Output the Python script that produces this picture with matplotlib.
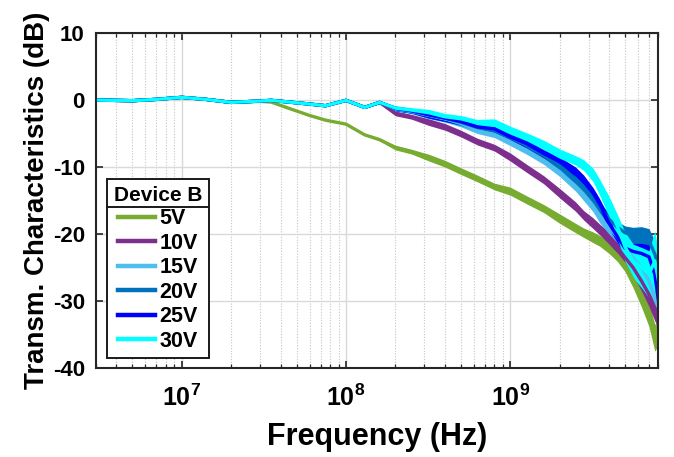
import matplotlib
matplotlib.use("Agg")
import matplotlib.pyplot as plt
import numpy as np
from matplotlib.lines import Line2D
from matplotlib.ticker import LogLocator, NullFormatter

plt.rcParams["font.family"] = ["Liberation Sans", "DejaVu Sans"]
plt.rcParams["font.weight"] = "bold"
plt.rcParams["axes.unicode_minus"] = False
plt.rcParams["mathtext.fontset"] = "custom"
plt.rcParams["mathtext.rm"] = "Liberation Sans:bold"
plt.rcParams["mathtext.it"] = "Liberation Sans:bold"
plt.rcParams["mathtext.bf"] = "Liberation Sans:bold"
plt.rcParams["mathtext.default"] = "rm"

# ── Data ──────────────────────────────────────────────────────────────────
freq_hz = [3e6, 5e6, 7e6, 1e7, 1.4e7, 2e7, 3e7, 3.5e7, 4.5e7, 6e7, 7.5e7,
           1e8, 1.3e8, 1.6e8, 2e8, 2.5e8, 3.2e8, 4e8, 5e8, 6.3e8, 8e8,
           1e9, 1.26e9, 1.6e9, 2e9, 2.5e9, 2.8e9, 3.2e9, 3.5e9, 4e9,
           4.5e9, 5e9, 5.6e9, 6.3e9, 7e9, 7.6e9, 8e9]

common_low = [0.0, -0.1, 0.1, 0.4, 0.1, -0.35, -0.15, -0.05, -0.3, -0.6,
              -0.85, -0.05, -1.1, -0.35]

v5 = [0.0, -0.1, 0.1, 0.4, 0.1, -0.35, -0.2, -0.3, -1.25, -2.3, -3.0,
      -3.6, -5.2, -5.9, -7.1, -7.7, -8.6, -9.5, -10.6, -11.7, -12.9,
      -13.6, -14.9, -16.2, -17.7, -19.1, -19.8, -20.5, -21.0, -22.0,
      -23.2, -24.6, -26.8, -29.4, -32.0, -35.5, -34.5]
v10 = common_low + [-2.0, -2.5, -3.3, -4.0, -5.0, -6.2, -7.1, -8.5, -10.2,
                    -11.9, -13.9, -15.9, -17.2, -18.4, -19.3, -20.6, -22.0,
                    -23.5, -25.0, -27.0, -29.0, -31.0, -32.0]
v15 = common_low + [-1.3, -1.7, -2.3, -2.8, -3.5, -4.5, -5.1, -6.2, -7.5,
                    -9.0, -10.7, -12.9, -14.3, -15.9, -17.5, -19.1, -20.4,
                    -22.0, -23.5, -25.0, -27.0, -29.5, -30.5]
v20 = common_low + [-1.25, -1.6, -2.2, -2.7, -3.3, -4.1, -4.6, -5.6, -6.8,
                    -8.3, -9.8, -11.8, -13.0, -14.6, -16.0, -17.8, -19.0,
                    -19.8, -20.2, -20.4, -21.0, -23.0, -25.0]
v25 = common_low + [-1.25, -1.6, -2.2, -2.7, -3.2, -4.0, -4.3, -5.5, -6.5,
                    -8.0, -9.2, -10.7, -11.9, -13.9, -15.5, -18.4, -20.4,
                    -22.1, -22.6, -22.9, -23.4, -26.0, -30.0]
v30 = common_low + [-1.2, -1.5, -1.9, -2.5, -2.8, -3.4, -3.4, -4.5, -5.5,
                    -6.7, -8.0, -9.0, -9.7, -11.2, -13.0, -15.9, -18.9,
                    -21.9, -24.0, -25.0, -26.0, -24.0, -27.0]

# half-width of the ripple band
ripple_db = [0, 0, 0, 0, 0, 0, 0, 0, 0, 0, 0, 0, 0.1, 0.2, 0.35, 0.35,
             0.5, 0.5, 0.5, 0.5, 0.5, 0.6, 0.6, 0.6, 0.7, 0.7, 0.7, 0.8,
             0.8, 0.9, 0.9, 1.0, 1.2, 1.5, 1.8, 2.0, 2.0]
ripple_30v = [0, 0, 0, 0, 0, 0, 0, 0, 0, 0, 0, 0, 0.1, 0.2, 0.35, 0.35,
              0.5, 0.5, 0.5, 0.5, 0.6, 0.6, 0.6, 0.7, 0.7, 0.7, 0.8, 1.0,
              1.2, 1.5, 1.8, 2.2, 2.5, 3.0, 3.5, 4.5, 4.0]

labels = ["5V", "10V", "15V", "20V", "25V", "30V"]
colors = ["#77AC30", "#7E2F8E", "#4DBEEE", "#0072BD", "#0000FF", "#00FFFF"]
series = [v5, v10, v15, v20, v25, v30]
ripples = [ripple_db] * 5 + [ripple_30v]

# ── Plot ──────────────────────────────────────────────────────────────────
fig = plt.figure(figsize=(6.74, 4.57), dpi=100)
ax = fig.add_axes([0.1424, 0.1947, 0.8346, 0.733])

f = np.array(freq_hz)
for vals, rip, col, lab in zip(series, ripples, colors, labels):
    v = np.array(vals)
    r = np.array(rip)
    ax.fill_between(f, v - r, v + r, color=col, linewidth=0)
    ax.plot(f, v, color=col, linewidth=2.4, label=lab)

ax.set_xscale("log")
ax.set_xlim(3e6, 8e9)
ax.set_ylim(-40, 10)
ax.set_yticks([-40, -30, -20, -10, 0, 10])
ax.xaxis.set_major_locator(LogLocator(base=10, numticks=20))
ax.xaxis.set_minor_locator(LogLocator(base=10, subs=np.arange(2, 10),
                                      numticks=50))
ax.xaxis.set_minor_formatter(NullFormatter())

ax.grid(True, which="major", color="#d9d9d9", linewidth=1.0, linestyle="-")
ax.grid(True, which="minor", axis="x", color="#c4c4c4", linewidth=0.8,
        linestyle=(0, (1, 1.5)))
ax.set_axisbelow(True)

ax.tick_params(which="both", direction="in", top=True, right=True,
               colors="#262626", labelcolor="black")
ax.tick_params(which="major", length=5, width=1.2, labelsize=16)
ax.tick_params(axis="x", which="major", labelsize=18, pad=12)
ax.tick_params(axis="y", which="major", pad=8)
ax.tick_params(which="minor", length=3, width=0.9)
for s in ax.spines.values():
    s.set_linewidth(1.5)
    s.set_color("#262626")

ax.set_xlabel("Frequency (Hz)", fontsize=22, fontweight="bold", labelpad=8)
ax.set_ylabel("Transm. Characteristics (dB)", fontsize=20, fontweight="bold",
              labelpad=2)

handles = [Line2D([], [], color=c, linewidth=3.2) for c in colors]
leg = ax.legend(handles, labels, title="Device B", loc="lower left",
                bbox_to_anchor=(0.02, 0.03), borderaxespad=0,
                fontsize=15.5, title_fontproperties={"weight": "bold",
                                                    "size": 15},
                frameon=True, fancybox=False, framealpha=1,
                edgecolor="#1a1a1a", handlelength=1.7, handletextpad=0.2,
                labelspacing=0.16, borderpad=0.3)
leg.get_frame().set_linewidth(1.4)
for t in leg.get_texts():
    t.set_fontweight("bold")

# separator under the legend title, like the MATLAB title box
fig.canvas.draw()
fb = leg.get_frame().get_window_extent()
tb = leg.get_title().get_window_extent()
inv = fig.transFigure.inverted()
y_sep = tb.y0 - 2
(x0, y0), (x1, _) = inv.transform([(fb.x0, y_sep), (fb.x1, y_sep)])
fig.add_artist(Line2D([x0, x1], [y0, y0], color="#1a1a1a", linewidth=1.4,
                      transform=fig.transFigure))

fig.savefig("out.png", dpi=100)
plt.close(fig)
